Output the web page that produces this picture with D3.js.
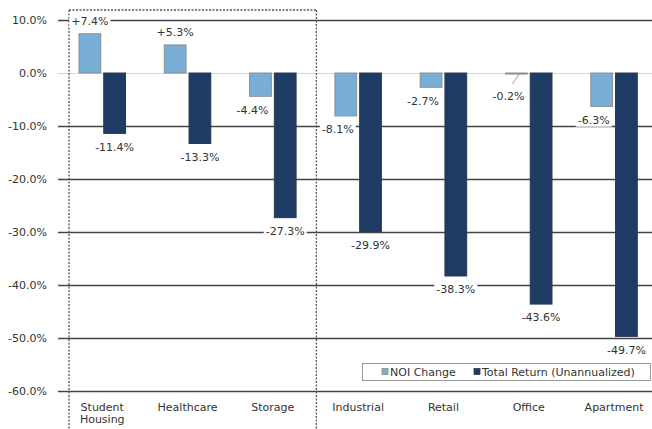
<!DOCTYPE html>
<html><head><meta charset="utf-8">
<script src="https://cdn.jsdelivr.net/npm/d3@7"></script>
<style>
html,body{margin:0;padding:0;background:#fff;}
svg{display:block;font-family:"DejaVu Sans",Verdana,sans-serif;}
</style></head>
<body><svg id="c" width="652" height="429"></svg>
<script>
const categories = ["Student Housing","Healthcare","Storage","Industrial","Retail","Office","Apartment"];
const seriesNames = ["NOI Change","Total Return (Unannualized)"];
const noiChange = [7.4, 5.3, -4.4, -8.1, -2.7, -0.2, -6.3];
const totalReturn = [-11.4, -13.3, -27.3, -29.9, -38.3, -43.6, -49.7];
const yTicks = [10, 0, -10, -20, -30, -40, -50, -60];

const colors = {"NOI Change":"#79aed7","Total Return (Unannualized)":"#1d3b63"};
const strokes = {"NOI Change":"#8c8f94","Total Return (Unannualized)":"#2a3a50"};

const svg = d3.select("#c");
const W = 652;
const y = d3.scaleLinear().domain([-60, 10]).range([391, 20]);
const x = d3.scaleBand().domain(categories).range([58.5, 655.6]).paddingInner(0).paddingOuter(0);
const x1 = d3.scaleBand().domain(seriesNames).range([20.5, 67]).paddingInner(0.12);

const fmt = v => (v > 0 ? "+" : "") + v.toFixed(1) + "%";

// gridlines
const grid = svg.append("g");
grid.selectAll("line").data(yTicks).join("line")
  .attr("x1", 58).attr("x2", W)
  .attr("y1", d => Math.round(y(d)) + 0.5).attr("y2", d => Math.round(y(d)) + 0.5)
  .attr("stroke", d => d === 0 ? "#d4d6da" : "#444")
  .attr("stroke-width", d => d === 0 ? 1 : 1.4);

// y axis labels
const yAxis = d3.axisLeft(y).tickValues(yTicks).tickSize(0).tickPadding(0)
  .tickFormat(d => d.toFixed(1) + "%");
const ga = svg.append("g").attr("transform", "translate(47,0)").call(yAxis);
ga.select(".domain").remove();
ga.selectAll("text").attr("font-size", 11).attr("fill", "#333")
  .attr("font-family", "DejaVu Sans, Verdana, sans-serif");

// dotted box around first three categories
const boxL = x(categories[0]) + 10.5, boxR = x(categories[3]) + 2, boxT = 10;
const box = svg.append("g").attr("stroke", "#555").attr("stroke-width", 1.3)
  .attr("stroke-dasharray", "2,1.5").attr("fill", "none");
box.append("line").attr("x1", boxL).attr("x2", boxL).attr("y1", boxT).attr("y2", 429);
box.append("line").attr("x1", boxR).attr("x2", boxR).attr("y1", boxT).attr("y2", 429);
box.append("line").attr("x1", boxL).attr("x2", boxR).attr("y1", boxT).attr("y2", boxT);

// bars
const rows = categories.map((c, i) => ({cat: c, vals: [
  {s: seriesNames[0], v: noiChange[i], i},
  {s: seriesNames[1], v: totalReturn[i], i}
]}));
const groups = svg.append("g").selectAll("g").data(rows).join("g")
  .attr("transform", d => `translate(${x(d.cat)},0)`);
groups.selectAll("rect").data(d => d.vals).join("rect")
  .attr("x", d => x1(d.s))
  .attr("width", x1.bandwidth())
  .attr("y", d => y(Math.max(0, d.v)))
  .attr("height", d => Math.max(1, Math.abs(y(d.v) - y(0))))
  .attr("fill", d => colors[d.s])
  .attr("stroke", d => strokes[d.s]).attr("stroke-width", 1);

// data labels
const labelG = svg.append("g");
rows.forEach(r => {
  r.vals.forEach(d => {
    const cx = x(r.cat) + x1(d.s) + x1.bandwidth() / 2;
    let dx = 0;
    if (d.s === seriesNames[0] && d.v < 0) dx = -8;
    let lx = cx + dx;
    let ly = d.v > 0 ? y(d.v) - 13 : y(d.v) + 13.5;
    if (d.s === seriesNames[0] && Math.abs(d.v) < 1) {
      ly = y(0) + 23;
      labelG.append("line").attr("x1", cx + 3).attr("y1", y(0) + 1)
        .attr("x2", cx - 4).attr("y2", y(0) + 11)
        .attr("stroke", "#9aa0a8").attr("stroke-width", 1);
    }
    const t = labelG.append("text").attr("x", lx).attr("y", ly).attr("dy", "0.35em")
      .attr("text-anchor", "middle").attr("font-size", 11).attr("fill", "#333")
      .text(fmt(d.v));
    let bb = t.node().getBBox();
    if (bb.x + bb.width > W - 3) {
      lx -= (bb.x + bb.width) - (W - 3);
      t.attr("x", lx);
      bb = t.node().getBBox();
    }
    labelG.insert("rect", () => t.node())
      .attr("x", bb.x - 2).attr("y", bb.y).attr("width", bb.width + 4).attr("height", bb.height)
      .attr("fill", "#fff");
  });
});

// category labels
const xl = svg.append("g");
categories.forEach(c => {
  const cx = x(c) + (x1.range()[0] + x1.range()[1]) / 2;
  const words = c === "Student Housing" ? ["Student", "Housing"] : [c];
  const t = xl.append("text").attr("x", cx).attr("y", 411).attr("text-anchor", "middle")
    .attr("font-size", 11).attr("fill", "#333");
  words.forEach((w, k) => t.append("tspan").attr("x", cx).attr("dy", k ? 12 : 0).text(w));
});

// legend
const lg = svg.append("g");
lg.append("rect").attr("x", 362.5).attr("y", 363.5).attr("width", 288).attr("height", 17)
  .attr("fill", "#fff").attr("stroke", "#9a9a9a");
const legX = [382, 474];
seriesNames.forEach((s, k) => {
  lg.append("rect").attr("x", legX[k]).attr("y", 368.5).attr("width", 6).attr("height", 6)
    .attr("fill", colors[s]).attr("stroke", strokes[s]).attr("stroke-width", 0.8);
  lg.append("text").attr("x", legX[k] + 8).attr("y", 375.5).attr("font-size", 11)
    .attr("fill", "#333").text(s);
});
</script></body></html>
